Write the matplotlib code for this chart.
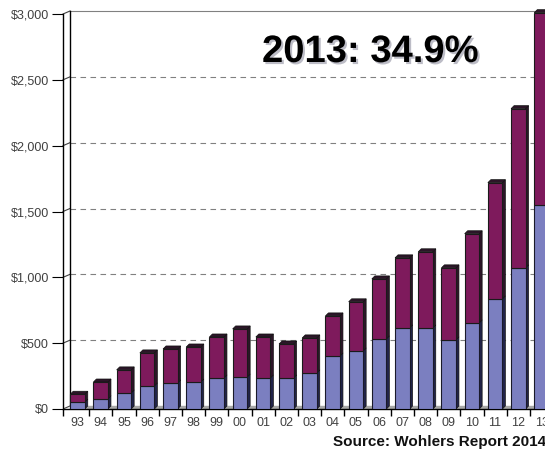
import matplotlib
matplotlib.use("Agg")
import matplotlib.pyplot as plt
import matplotlib.patheffects as pe
from matplotlib.ticker import FuncFormatter

plt.rcParams["font.family"] = ["Liberation Sans", "DejaVu Sans"]

# revenue in US$ millions, products + services stacked
years = ["93", "94", "95", "96", "97", "98", "99", "00", "01", "02", "03",
         "04", "05", "06", "07", "08", "09", "10", "11", "12", "13"]
products = [53, 78, 122, 175, 198, 205, 236, 243, 236, 236, 274,
            403, 441, 532, 616, 616, 525, 654, 836, 1072, 1551]
totals = [112, 205, 297, 426, 456, 471, 547, 608, 547, 494, 540,
          707, 814, 988, 1148, 1194, 1072, 1331, 1719, 2281, 3010]
services = [t - p for t, p in zip(totals, products)]

blue = "#7b7fc0"
purple = "#7e1a5c"
blue_side = "#22244a"
purple_side = "#2c1528"

W, H = 545, 449
fig = plt.figure(figsize=(W / 100, H / 100), dpi=100)
ax = fig.add_axes([63 / W, (H - 409) / H, 1 - 63 / W, 395 / H])

pitch = 23.2              # px per bar slot
x0 = 77.5                 # px centre of the first bar
ax.set_xlim((63 - x0) / pitch, (W - x0) / pitch)
ax.set_ylim(0, 3000)

dx = 3 / pitch            # depth offset, x
dy = 3 * 3000 / 395       # depth offset, y
wall = (70 - x0) / pitch
width = 14.5 / pitch

# back wall gridlines and outline
for v in range(500, 3001, 500):
    ls = "-" if v == 3000 else (0, (5, 4))
    ax.plot([wall, 30], [v + dy, v + dy], color="#808080", lw=0.8, ls=ls,
            clip_on=False, zorder=1)
    ax.plot([-0.625, wall], [v, v + dy], color="#404040", lw=0.8, zorder=1,
            clip_on=False)
ax.plot([wall, wall], [dy, 3000 + dy], color="black", lw=1.0, zorder=1,
        clip_on=False)
ax.plot([-0.625, wall], [0, dy], color="#404040", lw=0.8, zorder=1)
ax.fill_between([wall, 30], 0, dy, color="#a8a8a8", zorder=1)

xs = list(range(len(years)))
ax.bar(xs, products, width=width, color=blue, edgecolor="#1a1a2a", lw=0.8,
       zorder=3)
ax.bar(xs, services, width=width, bottom=products, color=purple,
       edgecolor="#1a1a1a", lw=0.8, zorder=3, clip_on=False)

for x, p, t in zip(xs, products, totals):
    xr = x + width / 2
    xl = x - width / 2
    ax.fill([xr, xr + dx, xr + dx, xr], [0, dy, p + dy, p],
            color=blue_side, ec="#111111", lw=0.5, zorder=2)
    ax.fill([xr, xr + dx, xr + dx, xr], [p, p + dy, t + dy, t],
            color=purple_side, ec="#111111", lw=0.5, zorder=2, clip_on=False)
    ax.fill([xl, xl + dx, xr + dx, xr], [t, t + dy, t + dy, t],
            color=purple_side, ec="#111111", lw=0.5, zorder=2, clip_on=False)

for s in ["top", "right"]:
    ax.spines[s].set_visible(False)
ax.spines["left"].set_linewidth(1.0)
ax.spines["bottom"].set_linewidth(1.0)

ax.set_yticks(range(0, 3001, 500))
ax.yaxis.set_major_formatter(FuncFormatter(lambda v, pos: "${:,.0f}".format(v)))
ax.set_xticks(xs)
ax.set_xticklabels(years)
ax.set_xticks([x + 0.5 for x in xs[:-1]] + [-0.625], minor=True)
ax.tick_params(axis="x", which="major", length=0, pad=6, labelsize=9,
               labelcolor="#404040")
ax.tick_params(axis="x", which="minor", length=5, width=1.0, direction="out")
ax.tick_params(axis="y", length=8, width=0.8, labelsize=9, labelcolor="#404040",
               pad=2)

fig.text(262 / W, 1 - 52 / H, "2013: 34.9%", fontsize=27.5, fontweight="bold",
         va="center", ha="left", color="black",
         path_effects=[pe.withSimplePatchShadow(offset=(1.5, -1.5),
                                                shadow_rgbFace="#9090a0",
                                                alpha=0.6)])
fig.text(333 / W, 1 - 442 / H, "Source: Wohlers Report 2014", fontsize=11,
         fontweight="bold", va="center", ha="left", color="#111111")

fig.savefig("out.png", dpi=100)
